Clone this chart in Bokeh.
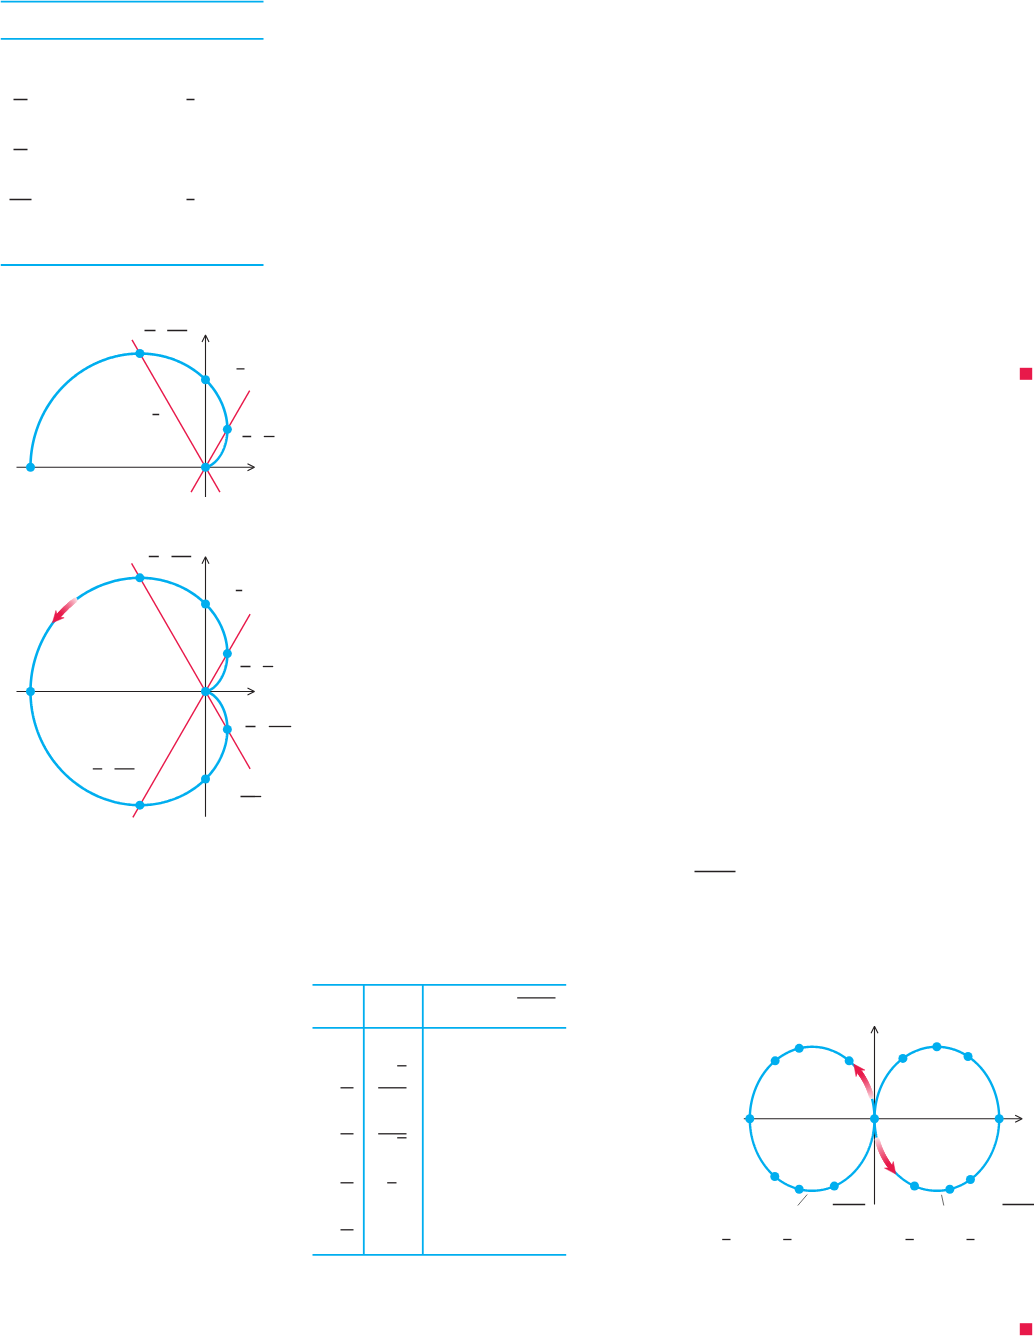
import numpy as np
from bokeh.plotting import figure
from bokeh.models import Range1d, Arrow, OpenHead
from bokeh.embed import file_html
from bokeh.resources import INLINE

# ---------------- data ----------------
# Cardioid r = 1 - cos(theta): tabulated points (degrees, r)
card_theta_upper = [0, 60, 90, 120, 180]
card_r_upper = [0.0, 0.5, 1.0, 1.5, 2.0]
card_theta_lower = [240, 270, 300]
card_r_lower = [1.5, 1.0, 0.5]
tangent_angles = [60, 120]

# Figure-eight loops: marked parameter values (degrees)
right_loop_t = [90, 0, 30, 45, 61.5, -28.7, -39, -55.5]
left_loop_t = [0, 26.8, 39, 63.2, -26.6, -39, -55.4]

# Text remnants (fraction bars / radical bars) : x0, x1, y  (page px)
bar_x0 = [13, 186, 13, 9, 186,
          144, 166.7, 236, 152, 242, 263.3,
          148.3, 171, 235.3, 240, 262.3, 245, 268.3, 92.3, 114, 240,
          516.7, 396.7, 340, 377.7, 340, 377.7, 396.7, 340, 386.7, 340,
          694, 832.3, 1002, 721.7, 782.7, 905, 966]
bar_x1 = [27, 194, 27, 31, 194,
          155, 186.7, 244, 158.7, 250.7, 274,
          158.3, 190.7, 241.7, 250, 272.7, 255, 290.7, 101.7, 134, 260.7,
          555, 406, 353, 406, 353, 406, 406, 353, 396, 353,
          735, 864.7, 1034, 730, 791, 913.3, 974]
bar_y = [99, 99, 149, 199, 199,
         330, 330, 368.3, 414, 436, 436,
         556, 556, 590, 666, 666, 726, 726, 768.3, 768.3, 796,
         997.3, 1065.3, 1087.3, 1087.3, 1133.3, 1133.3, 1137.3, 1182.3, 1182.3, 1229.3,
         871, 1204, 1204, 1239, 1239, 1239, 1239]

CYAN = "#00AEEF"
RED = "#E8194A"
BLACK = "#231F20"

W, H = 1034, 1336
p = figure(width=W, height=H, x_range=Range1d(0, W), y_range=Range1d(H, 0),
           output_backend="svg", toolbar_location=None,
           x_axis_location=None, y_axis_location=None, min_border=0)
p.outline_line_color = None
p.grid.visible = False
p.background_fill_color = "white"
p.border_fill_color = "white"


def axis_arrow(x0, y0, x1, y1):
    p.add_layout(Arrow(end=OpenHead(size=7, line_width=1.1, line_color=BLACK),
                       x_start=x0, y_start=y0, x_end=x1, y_end=y1,
                       line_width=1.1, line_color=BLACK, level="underlay"))


def grad_arrow(xs, ys, head_len=10, head_w=5.5):
    xs = np.asarray(xs); ys = np.asarray(ys)
    n = len(xs) - 1
    c0 = np.array([252, 228, 232]); c1 = np.array([232, 25, 74])
    cols = []
    for i in range(n):
        f = (i / max(n - 1, 1)) ** 0.8
        c = (c0 + (c1 - c0) * f).astype(int)
        cols.append("#%02x%02x%02x" % tuple(c))
    p.segment(xs[:-1], ys[:-1], xs[1:], ys[1:], line_color=cols, line_width=5,
              line_cap="round")
    dx = xs[-1] - xs[-2]; dy = ys[-1] - ys[-2]
    L = np.hypot(dx, dy); ux, uy = dx / L, dy / L
    nx, ny = -uy, ux
    bx, by = xs[-1], ys[-1]
    tx, ty = bx + ux * head_len, by + uy * head_len
    hx = [tx, bx + nx * head_w - ux * 1.5, bx + ux * 2, bx - nx * head_w - ux * 1.5]
    hy = [ty, by + ny * head_w - uy * 1.5, by + uy * 2, by - ny * head_w - uy * 1.5]
    p.patch(hx, hy, fill_color=RED, line_color=RED, line_width=0.5)


# ---------------- table 1 ----------------
p.segment([0, 0, 0], [1, 38.3, 264.5], [263, 263, 263], [1, 38.3, 264.5],
          line_color=CYAN, line_width=1.8)

# ---------------- table 2 ----------------
p.segment([312, 312, 312], [984.3, 1027.3, 1254.3], [565.7, 565.7, 565.7],
          [984.3, 1027.3, 1254.3], line_color=CYAN, line_width=1.8)
p.segment([363.3, 422.3], [984.3, 984.3], [363.3, 422.3], [1254.3, 1254.3],
          line_color=CYAN, line_width=1.8)

# ---------------- fraction bars ----------------
p.segment(bar_x0, bar_y, bar_x1, bar_y, line_color=BLACK, line_width=1.3)

# leader lines (figure 3)
p.segment([797.3, 941], [1205, 1194.3], [806.7, 943.3], [1194, 1205],
          line_color="#444444", line_width=0.8)

# red end-of-example squares
p.quad(left=[1019.3, 1019.3], right=[1031.7, 1031.7], top=[367.3, 1322.7],
       bottom=[379.3, 1334.7], fill_color=RED, line_color=None)


# ---------------- cardioid plots ----------------
def cardioid_plot(ox, oy, S, th_max, ax_x, ax_y, line_ext, thetas, rs, arrow=None):
    axis_arrow(ox + ax_x[0] * S, oy, ox + ax_x[1] * S, oy)
    axis_arrow(ox, oy - ax_y[0] * S, ox, oy - ax_y[1] * S)
    for ang, (t0, t1) in zip(tangent_angles, line_ext):
        a = np.radians(ang)
        p.line([ox + t0 * S * np.cos(a), ox + t1 * S * np.cos(a)],
               [oy - t0 * S * np.sin(a), oy - t1 * S * np.sin(a)],
               line_color=RED, line_width=1.4)
    th = np.radians(np.linspace(0, th_max, 600))
    r = 1 - np.cos(th)
    p.line(ox + S * r * np.cos(th), oy - S * r * np.sin(th), line_color=CYAN,
           line_width=2.6)
    if arrow is not None:
        ta = np.radians(np.linspace(arrow[0], arrow[1], 30))
        ra = 1 - np.cos(ta)
        grad_arrow(ox + S * ra * np.cos(ta), oy - S * ra * np.sin(ta))
    tt = np.radians(thetas); rr = np.asarray(rs)
    p.scatter(ox + S * rr * np.cos(tt), oy - S * rr * np.sin(tt), size=9,
              fill_color=CYAN, line_color=None)


S1 = 87.5
cardioid_plot(205, 466.7, S1, 180, (-2.16, 0.56), (-0.34, 1.51),
              [(-0.33, 1.01), (-0.33, 1.68)], card_theta_upper, card_r_upper)
cardioid_plot(205, 691, S1, 360, (-2.16, 0.56), (-1.43, 1.54),
              [(-1.66, 1.02), (-1.02, 1.69)],
              card_theta_upper + card_theta_lower, card_r_upper + card_r_lower,
              arrow=(145, 152.5))

# ---------------- figure-eight plot ----------------
OX3, OY3, SX3, SY3 = 874, 1118.3, 124.7, 144.0
axis_arrow(OX3 - 1.048 * SX3, OY3, OX3 + 1.184 * SX3, OY3)
axis_arrow(OX3, OY3 + 0.595 * SY3, OX3, OY3 - 0.643 * SY3)

t = np.radians(np.linspace(-90, 90, 600))
for sgn in (1, -1):
    p.line(OX3 + sgn * SX3 * np.cos(t) ** 2, OY3 - SY3 * np.cos(t) * np.sin(t),
           line_color=CYAN, line_width=2.4)

ta = np.radians(np.linspace(81, 69.8, 25))
grad_arrow(OX3 - SX3 * np.cos(ta) ** 2, OY3 - SY3 * np.cos(ta) * np.sin(ta))
ta = np.radians(np.linspace(-81.5, -69.5, 25))
grad_arrow(OX3 + SX3 * np.cos(ta) ** 2, OY3 - SY3 * np.cos(ta) * np.sin(ta))

for sgn, tl in ((1, right_loop_t), (-1, left_loop_t)):
    tr = np.radians(tl)
    p.scatter(OX3 + sgn * SX3 * np.cos(tr) ** 2, OY3 - SY3 * np.cos(tr) * np.sin(tr),
              size=9, fill_color=CYAN, line_color=None)

open("out.html", "w").write(file_html(p, INLINE))
